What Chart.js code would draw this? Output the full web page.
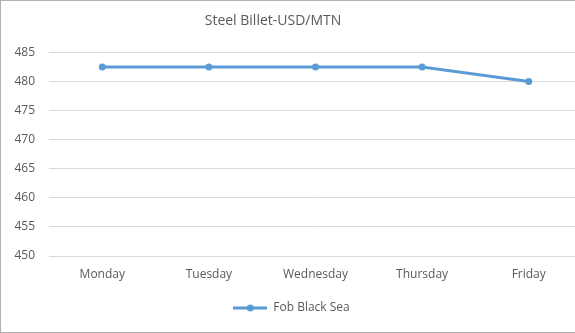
<!DOCTYPE html>
<html>
<head>
<meta charset="utf-8">
<script src="https://cdn.jsdelivr.net/npm/chart.js@4.4.1/dist/chart.umd.min.js"></script>
<style>
  html, body { margin: 0; padding: 0; background: #fff; overflow: hidden; }
  #wrap { position: absolute; left: 0; top: 0; width: 592px; height: 333px; box-sizing: border-box; border: 1px solid #b0b0b0; background: #fff; }
  #c { display: block; }
</style>
</head>
<body>
<div id="wrap"><canvas id="c" width="590" height="331"></canvas></div>
<script>
const titleText = 'Steel Billet-USD/MTN';
const categories = ['Monday', 'Tuesday', 'Wednesday', 'Thursday', 'Friday'];
const seriesName = 'Fob Black Sea';
const fobBlackSea = [482.5, 482.5, 482.5, 482.5, 480];
const yMin = 450, yMax = 485, yStep = 5;

const lineColor = '#5b9bd5';
const textColor = '#595959';
const fontFamily = '"Open Sans", "Liberation Sans", sans-serif';

// legend symbol: line with a marker
const sym = document.createElement('canvas');
sym.width = 34; sym.height = 10;
(function(){
  const g = sym.getContext('2d');
  g.strokeStyle = lineColor; g.lineWidth = 3;
  g.beginPath(); g.moveTo(0, 5); g.lineTo(34, 5); g.stroke();
  g.fillStyle = lineColor;
  g.beginPath(); g.arc(17, 5, 3.5, 0, Math.PI * 2); g.fill();
})();

const titlePlugin = {
  id: 'titleText',
  afterDraw(chart) {
    const ctx = chart.ctx;
    ctx.save();
    ctx.font = '14px ' + fontFamily;
    ctx.fillStyle = textColor;
    ctx.textAlign = 'center';
    ctx.textBaseline = 'middle';
    ctx.fillText(titleText, 272, 20);
    ctx.restore();
  }
};

new Chart(document.getElementById('c'), {
  type: 'line',
  data: {
    labels: categories,
    datasets: [{
      label: seriesName,
      data: fobBlackSea,
      borderColor: lineColor,
      backgroundColor: lineColor,
      borderWidth: 3,
      pointRadius: 3.5,
      pointHoverRadius: 3.5,
      pointBackgroundColor: lineColor,
      pointBorderColor: lineColor,
      pointBorderWidth: 0,
      tension: 0
    }]
  },
  options: {
    responsive: false,
    animation: false,
    devicePixelRatio: 1,
    layout: { padding: { top: 51.5, right: 9, left: 0, bottom: 8 } },
    plugins: {
      title: { display: false },
      tooltip: { enabled: false },
      legend: {
        position: 'bottom',
        labels: {
          usePointStyle: true,
          pointStyle: sym,
          pointStyleWidth: 34,
          color: textColor,
          font: { family: fontFamily, size: 12 },
          padding: 10
        }
      }
    },
    scales: {
      x: {
        offset: true,
        grid: { display: false, drawTicks: false },
        border: { display: true, color: '#d9d9d9', width: 1 },
        ticks: { color: textColor, font: { family: fontFamily, size: 12 }, padding: 11, maxRotation: 0 },
        afterFit(s) { s.height = 36; }
      },
      y: {
        min: yMin, max: yMax,
        grid: { color: '#d9d9d9', lineWidth: 1, drawTicks: false },
        border: { display: false },
        ticks: { stepSize: yStep, color: textColor, font: { family: fontFamily, size: 12 }, padding: 14 },
        afterFit(s) { s.width = 48; }
      }
    }
  },
  plugins: [titlePlugin]
});
</script>
</body>
</html>
